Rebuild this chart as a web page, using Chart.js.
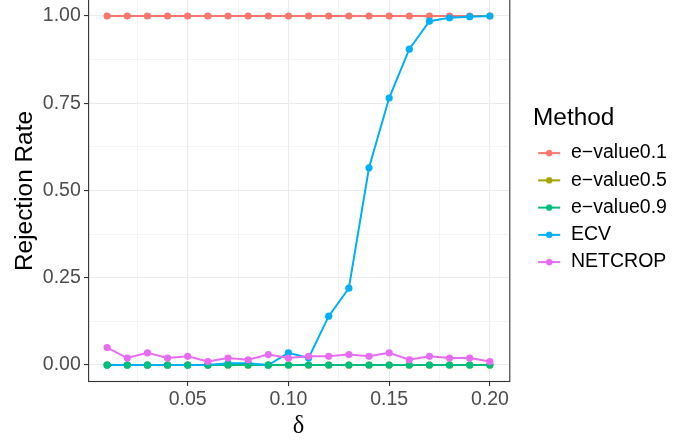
<!DOCTYPE html>
<html><head><meta charset="utf-8">
<script src="https://cdn.jsdelivr.net/npm/chart.js@4/dist/chart.umd.min.js"></script>
<style>html,body{margin:0;padding:0;background:#fff}</style>
</head><body>
<canvas id="c" width="673" height="440" style="width:673px;height:440px;display:block"></canvas>
<script>
// ---- data ----
const deltas = [0.01,0.02,0.03,0.04,0.05,0.06,0.07,0.08,0.09,0.10,0.11,0.12,0.13,0.14,0.15,0.16,0.17,0.18,0.19,0.20];
const evalue01 = [1,1,1,1,1,1,1,1,1,1,1,1,1,1,1,1,1,1,1,1];
const evalue05 = [0,0,0,0,0,0,0,0,0,0,0,0,0,0,0,0,0,0,0,0];
const evalue09 = [0,0,0,0,0,0,0,0,0,0,0,0,0,0,0,0,0,0,0,0];
const ecv      = [0,0,0,0,0,0,0.005,0.005,0,0.035,0.02,0.14,0.22,0.565,0.765,0.905,0.985,0.995,0.998,1.0];
const netcrop  = [0.05,0.02,0.035,0.02,0.025,0.01,0.02,0.015,0.03,0.02,0.025,0.025,0.03,0.025,0.035,0.015,0.025,0.02,0.02,0.01];
const methods  = ['e\u2212value0.1','e\u2212value0.5','e\u2212value0.9','ECV','NETCROP'];
const colors   = ['#F8766D','#A3A500','#00BF7D','#00B0F6','#E76BF3'];
const xMajor = [0.05,0.10,0.15,0.20];
const xMinor = [0.025,0.075,0.125,0.175];
const yMajor = [0,0.25,0.50,0.75,1.00];
const yMinor = [0.125,0.375,0.625,0.875];
const xTitle = '\u03b4';
const yTitle = 'Rejection Rate';
const legendTitle = 'Method';

// ---- layout ----
const FAMILY = "'Liberation Sans', Arial, Helvetica, sans-serif";
Chart.defaults.font.family = FAMILY;
const W = 673;
const EXTRA_LEFT = 300;
const PLOT_LEFT = 88, PLOT_RIGHT = 509, XAXIS_H = 58;
const TICK_FONT = 19.5, TITLE_FONT = 24.4, LEG_FONT = 19.5;
const LEG_PAD = 7.75, LEG_LEFT = 533, LEG_TEXT_X = 571, KEY_CENTER = 549.2;
const boxW = LEG_TEXT_X - (LEG_LEFT + LEG_PAD) - LEG_FONT / 2;
const mctx = document.createElement('canvas').getContext('2d');
mctx.font = LEG_FONT + 'px ' + FAMILY;
const maxText = Math.max(...methods.map(m => mctx.measureText(m).width));
const legendW = LEG_PAD + boxW + LEG_FONT / 2 + maxText + 10;
const padRight = W - (LEG_LEFT + legendW);
const keyShift = KEY_CENTER - (LEG_LEFT + LEG_PAD + boxW / 2);

function makeKey(color) {
  const c = document.createElement('canvas');
  c.width = 44; c.height = 12;
  const g = c.getContext('2d');
  const cx = c.width / 2 + keyShift, cy = c.height / 2;
  g.strokeStyle = color; g.lineWidth = 2;
  g.beginPath(); g.moveTo(cx - 11, cy); g.lineTo(cx + 11, cy); g.stroke();
  g.fillStyle = color; g.beginPath(); g.arc(cx, cy, 3.2, 0, Math.PI * 2); g.fill();
  return c;
}
const keys = colors.map(makeKey);

const series = [evalue01, evalue05, evalue09, ecv, netcrop];
const pts = arr => deltas.map((d, i) => ({x: d, y: arr[i]}));
// drawing order bottom -> top (higher "order" drawn first)
const lineOrder = [14, 13, 12, 11, 10];
const pointOrder = [9, 8, 6, 7, 5];
const datasets = [];
series.forEach((s, i) => {
  datasets.push({label: methods[i], data: pts(s), showLine: true, borderColor: colors[i], borderWidth: 2,
    pointRadius: 0, pointHoverRadius: 0, order: lineOrder[i]});
  datasets.push({label: methods[i] + ' pts', data: pts(s), showLine: false, backgroundColor: colors[i],
    pointBackgroundColor: colors[i], pointBorderWidth: 0, pointRadius: 3.6, pointHoverRadius: 3.6, order: pointOrder[i]});
});

const isMajX = v => Math.abs(v * 20 - Math.round(v * 20)) < 1e-7;
const isMajY = v => Math.abs(v * 4 - Math.round(v * 4)) < 1e-7;
const noPad = s => { s.paddingTop = 0; s.paddingBottom = 0; s.paddingLeft = 0; s.paddingRight = 0; };

const panelBorder = {
  id: 'panelBorder',
  afterDraw(chart) {
    const {ctx, chartArea: a} = chart;
    ctx.save();
    ctx.strokeStyle = '#333333';
    ctx.lineWidth = 1.1;
    ctx.strokeRect(a.left + 0.6, a.top - 1, a.right - a.left + 0.2, a.bottom - 0.5 - (a.top - 1));
    ctx.restore();
  }
};

new Chart(document.getElementById('c'), {
  type: 'scatter',
  data: {datasets},
  plugins: [panelBorder],
  options: {
    responsive: false, animation: false,
    events: [],
    layout: {autoPadding: false, padding: {left: -EXTRA_LEFT, top: 0, bottom: 0, right: padRight}},
    plugins: {
      tooltip: {enabled: false},
      legend: {
        display: true, position: 'right', align: 'start', onClick: null,
        title: {display: true, text: legendTitle, color: '#000000', position: 'start',
          font: {size: TITLE_FONT, family: FAMILY}, padding: {top: 106.3, bottom: 0}},
        labels: {
          usePointStyle: true, pointStyleWidth: boxW, padding: LEG_PAD, color: '#000000',
          font: {size: LEG_FONT, family: FAMILY},
          generateLabels: () => methods.map((m, i) => ({
            text: m, fillStyle: colors[i], strokeStyle: colors[i], lineWidth: 0,
            pointStyle: keys[i], hidden: false, datasetIndex: i * 2, fontColor: '#000000'
          }))
        }
      }
    },
    scales: {
      x: {
        type: 'linear', position: 'bottom', min: 0.0005, max: 0.2095,
        afterBuildTicks: s => { s.ticks = [...xMinor, ...xMajor].sort((a, b) => a - b).map(v => ({value: v})); },
        afterFit: s => { s.height = XAXIS_H; noPad(s); },
        ticks: {autoSkip: false, maxRotation: 0, minRotation: 0, color: '#4D4D4D', padding: 2,
          font: {size: TICK_FONT}, callback: v => isMajX(v) ? v.toFixed(2) : ''},
        grid: {color: '#EBEBEB', lineWidth: c => (c.tick && isMajX(c.tick.value)) ? 1.1 : 0.55,
          tickColor: c => (c.tick && isMajX(c.tick.value)) ? '#333333' : 'rgba(0,0,0,0)',
          tickLength: 4, tickWidth: 1.1, drawTicks: true},
        border: {display: false},
        title: {display: true, text: xTitle, color: '#000000',
          font: {size: TITLE_FONT, family: "'Liberation Serif', 'DejaVu Serif', serif", lineHeight: 1.0},
          padding: {top: 0, bottom: 0.8}}
      },
      y: {
        type: 'linear', position: 'left', min: -0.0487, max: 1.0458,
        afterBuildTicks: s => { s.ticks = [...yMinor, ...yMajor].sort((a, b) => a - b).map(v => ({value: v})); },
        afterFit: s => { s.width = PLOT_LEFT + EXTRA_LEFT; noPad(s); },
        ticks: {autoSkip: false, color: '#4D4D4D', padding: 3.2, font: {size: TICK_FONT},
          callback: v => isMajY(v) ? v.toFixed(2) : ''},
        grid: {color: '#EBEBEB', lineWidth: c => (c.tick && isMajY(c.tick.value)) ? 1.1 : 0.55,
          tickColor: c => (c.tick && isMajY(c.tick.value)) ? '#333333' : 'rgba(0,0,0,0)',
          tickLength: 4, tickWidth: 1.1, drawTicks: true},
        border: {display: false},
        title: {display: true, text: yTitle, color: '#000000',
          font: {size: TITLE_FONT, family: FAMILY, lineHeight: 1.2},
          padding: {top: 10.4 + EXTRA_LEFT, bottom: 0}}
      },
      y2: {
        type: 'linear', position: 'right', display: true, min: 0, max: 1,
        afterFit: s => { s.width = LEG_LEFT - PLOT_RIGHT; noPad(s); },
        ticks: {display: false},
        grid: {display: false, drawTicks: false},
        border: {display: false}
      }
    }
  }
});
</script>
</body></html>
